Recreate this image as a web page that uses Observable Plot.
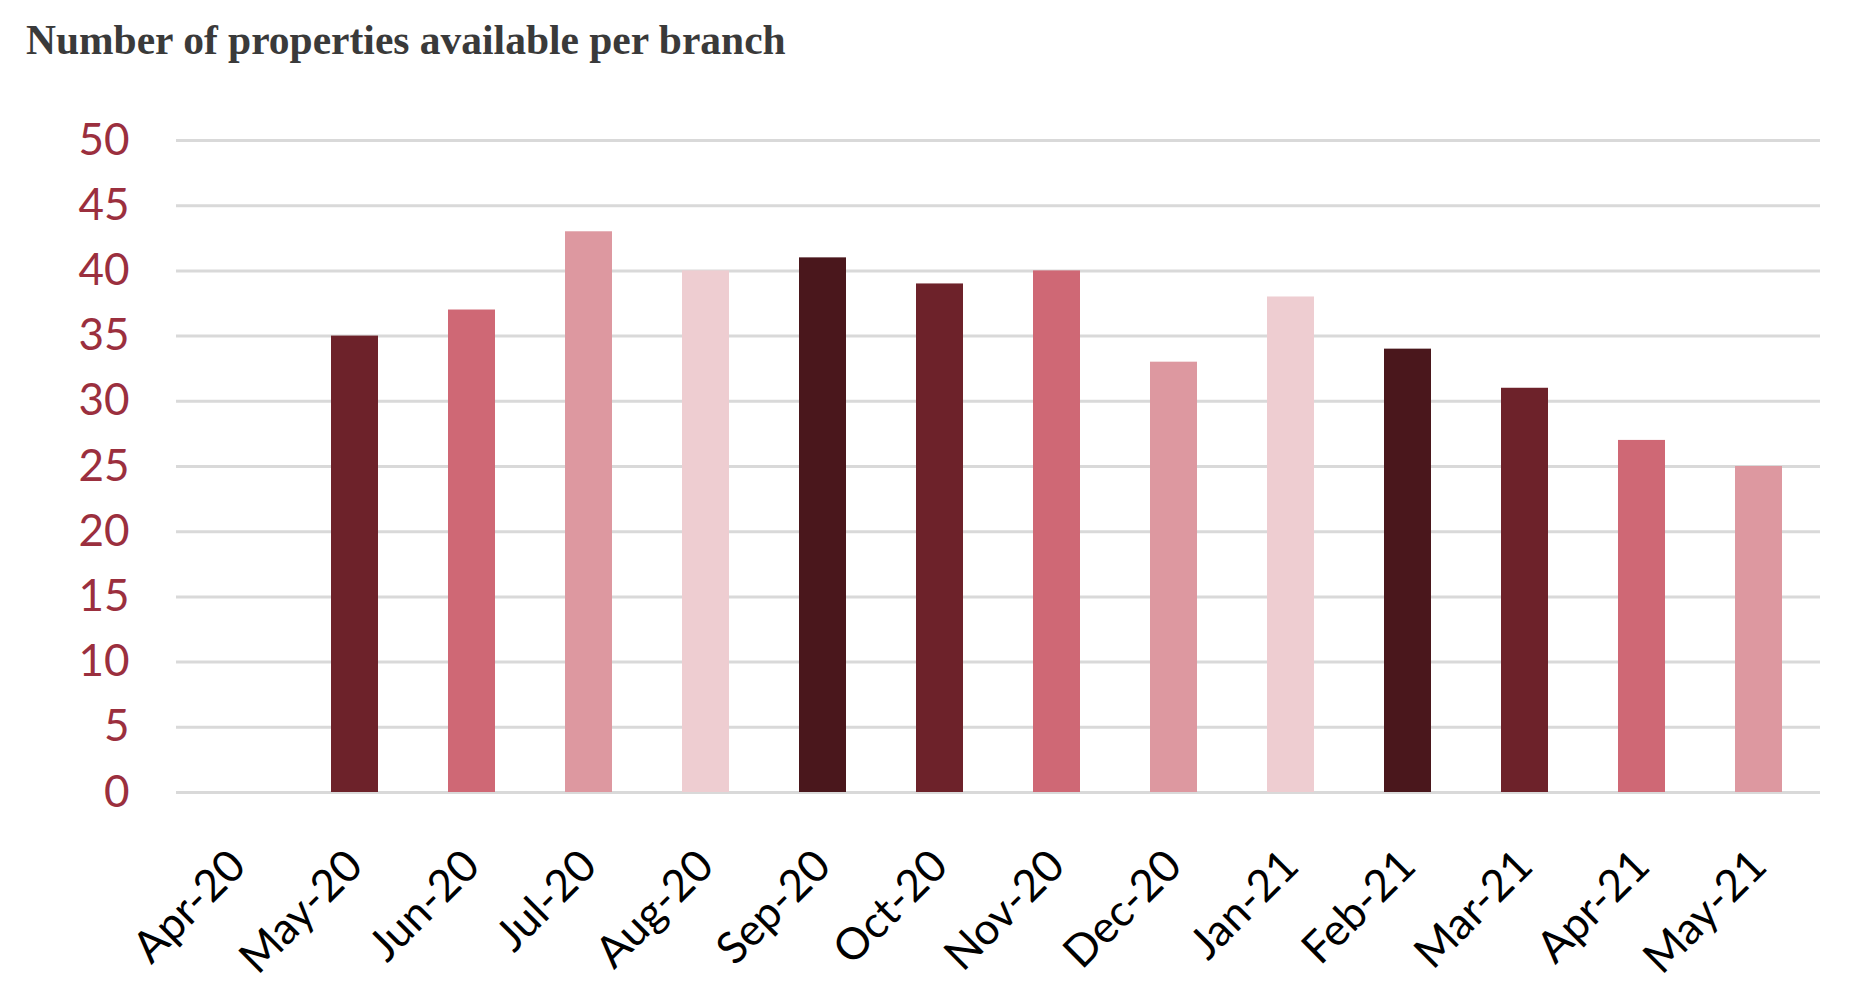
<!DOCTYPE html>
<html>
<head>
<meta charset="utf-8">
<script src="https://cdn.jsdelivr.net/npm/d3@7"></script>
<script src="https://cdn.jsdelivr.net/npm/@observablehq/plot@0.6"></script>
<style>
  html, body { margin: 0; padding: 0; background: #fff; }
  #title { font-family: "Liberation Serif", serif; font-weight: bold; font-size: 41.5px; color: #3a3a3a; height: 80px; line-height: 80px; padding-left: 26px; box-sizing: border-box; }
</style>
</head>
<body>
<div id="title">Number of properties available per branch</div>
<div id="chart"></div>
<script>
const months = ["Apr-20","May-20","Jun-20","Jul-20","Aug-20","Sep-20","Oct-20","Nov-20","Dec-20","Jan-21","Feb-21","Mar-21","Apr-21","May-21"];
const properties = [0, 35, 37, 43, 40, 41, 39, 40, 33, 38, 34, 31, 27, 25];
const barColors = ["#4a171c","#6d222a","#cf6875","#dd98a0","#eecdd1","#4a171c","#6d222a","#cf6875","#dd98a0","#eecdd1","#4a171c","#6d222a","#cf6875","#dd98a0"];
const yTicks = [0, 5, 10, 15, 20, 25, 30, 35, 40, 45, 50];

const data = months.map((m, i) => ({month: m, value: properties[i], color: barColors[i]}));

const chart = Plot.plot({
  width: 1862,
  height: 926,
  marginTop: 60,
  marginBottom: 214,
  marginLeft: 176,
  marginRight: 42,
  style: {fontFamily: "Lato, sans-serif", background: "#fff"},
  x: {domain: months, paddingInner: 0.6, paddingOuter: 0.3, label: null},
  y: {domain: [0, 50], label: null},
  marks: [
    Plot.ruleY(yTicks, {stroke: "#d9d9d9", strokeWidth: 3}),
    Plot.barY(data, {x: "month", y: "value", fill: "color"}),
    Plot.axisY({ticks: yTicks, tickSize: 0, tickPadding: 47, fontSize: 44, color: "#9b2f3e", label: null}),
    Plot.axisX({tickSize: 0, tickRotate: -45, tickPadding: 66, fontSize: 44, color: "#000", label: null})
  ]
});
document.getElementById("chart").appendChild(chart);
</script>
</body>
</html>
